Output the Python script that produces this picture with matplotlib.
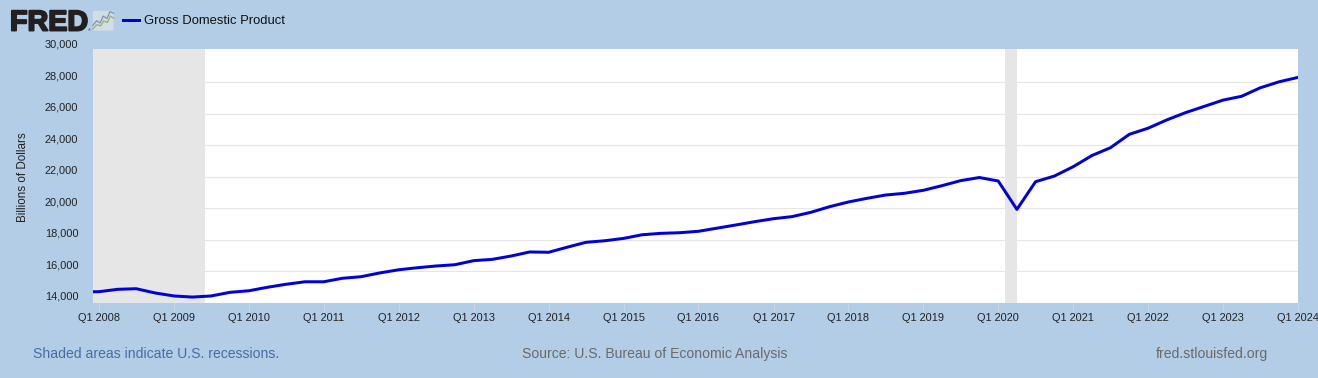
import matplotlib
matplotlib.use("Agg")
import matplotlib.pyplot as plt
import matplotlib.patheffects as pe
from matplotlib.transforms import ScaledTranslation
from matplotlib.patches import FancyBboxPatch
from matplotlib.lines import Line2D
import pandas as pd

plt.rcParams['font.family'] = ['Liberation Sans', 'DejaVu Sans']

W, H = 1318, 378
BG = '#b3cde7'
GRID = '#e6e6e6'
LINE = '#0000d9'
TXT = '#222222'

quarters = pd.period_range('2007Q4', '2024Q1', freq='Q')
gdp = [14700,
       14710, 14860, 14900, 14630,
       14440, 14370, 14440, 14670,
       14770, 14990, 15180, 15340,
       15340, 15560, 15660, 15900,
       16100, 16230, 16340, 16420,
       16680, 16760, 16970, 17230,
       17210, 17530, 17840, 17940,
       18090, 18320, 18410, 18450,
       18540, 18740, 18940, 19150,
       19340, 19470, 19740, 20100,
       20400, 20630, 20840, 20950,
       21140, 21430, 21750, 21950,
       21730, 19930, 21685, 22045,
       22640, 23340, 23840, 24690,
       25080, 25600, 26060, 26460,
       26860, 27100, 27640, 28020,
       28300]
recessions = [('2007-12-01', '2009-06-01'), ('2020-02-01', '2020-04-01')]
y_ticks = list(range(14000, 30001, 2000))
x_tick_years = list(range(2008, 2025))
series_name = 'Gross Domestic Product'
y_title = 'Billions of Dollars'


def px(n):
    return n * 0.72


def ftext(x, y, s, **kw):
    return fig.text(x / W, 1 - y / H, s, **kw)


fig = plt.figure(figsize=(W / 100, H / 100), dpi=100, facecolor=BG)
L, R, T, B = 92.5, 1298, 49, 303.3
ax = fig.add_axes([L / W, 1 - B / H, (R - L) / W, (B - T) / H], facecolor='white')

dates = quarters.to_timestamp()
for start, end in recessions:
    ax.axvspan(pd.Timestamp(start), pd.Timestamp(end), color=GRID, lw=0, zorder=2)
ax.plot(dates, gdp, color=LINE, lw=px(3), zorder=3, solid_joinstyle='round')

ax.set_xlim(pd.Timestamp('2007-12-01'), pd.Timestamp('2024-01-01'))
ax.set_ylim(13975, 30100)

ax.set_yticks(y_ticks)
ax.set_yticklabels([f'{v:,}' for v in y_ticks], fontsize=px(11), color=TXT)
ax.tick_params(axis='y', length=0, pad=10.2)
ax.grid(axis='y', color=GRID, lw=0.8, zorder=1)
ax.get_ygridlines()[-1].set_visible(False)
ax.set_axisbelow(True)
shift = ScaledTranslation(0, 7 / 100, fig.dpi_scale_trans)
for lab in ax.get_yticklabels():
    lab.set_transform(lab.get_transform() + shift)

ax.set_xticks([pd.Timestamp(f'{y}-01-01') for y in x_tick_years])
ax.set_xticklabels([f'Q1 {y}' for y in x_tick_years], fontsize=px(11), color=TXT)
ax.tick_params(axis='x', length=px(9), width=0.8, color='#c6d6e8', pad=0.8)
for s in ax.spines.values():
    s.set_visible(False)

ftext(23, 177.5, y_title, rotation=90, fontsize=px(11.6), color=TXT, ha='center', va='center')

# header: logo and legend
ftext(10, 30.5, 'FRED', fontsize=px(28.7), fontweight='bold', color='#231f20', ha='left', va='baseline',
      path_effects=[pe.withStroke(linewidth=1.4, foreground='#231f20')])
ftext(88, 31, '®', fontsize=px(4), color='#231f20', ha='left', va='baseline')
icon = fig.add_axes([92 / W, 1 - 31.5 / H, 22.5 / W, 21.5 / H])
icon.set_xlim(0, 1)
icon.set_ylim(0, 1)
icon.axis('off')
icon.add_patch(FancyBboxPatch((0.04, 0.04), 0.92, 0.92, boxstyle='round,pad=0,rounding_size=0.08',
                              fc='#d3dde4', ec='none'))
icon.plot([0.04, 0.22, 0.38, 0.52, 0.68, 0.82, 0.96], [0.12, 0.32, 0.26, 0.50, 0.42, 0.72, 0.62],
          color='#9aae6c', lw=0.9)
icon.plot([0.04, 0.2, 0.36, 0.5, 0.66, 0.8, 0.96], [0.28, 0.5, 0.4, 0.72, 0.6, 0.92, 0.85],
          color='#7f93a8', lw=0.9)
fig.add_artist(Line2D([123 / W, 139 / W], [1 - 19.5 / H] * 2, color=LINE, lw=px(3)))
ftext(144, 21, series_name, fontsize=px(13), color='#111111', ha='left', va='center')

# footer
ftext(33, 354, 'Shaded areas indicate U.S. recessions.', fontsize=px(14), color='#466ea5', ha='left', va='center')
ftext(522, 354, 'Source: U.S. Bureau of Economic Analysis', fontsize=px(14), color='#6a6a6a', ha='left', va='center')
ftext(1156, 354, 'fred.stlouisfed.org', fontsize=px(14), color='#6a6a6a', ha='left', va='center')

fig.savefig('out.png', dpi=100, facecolor=BG)
